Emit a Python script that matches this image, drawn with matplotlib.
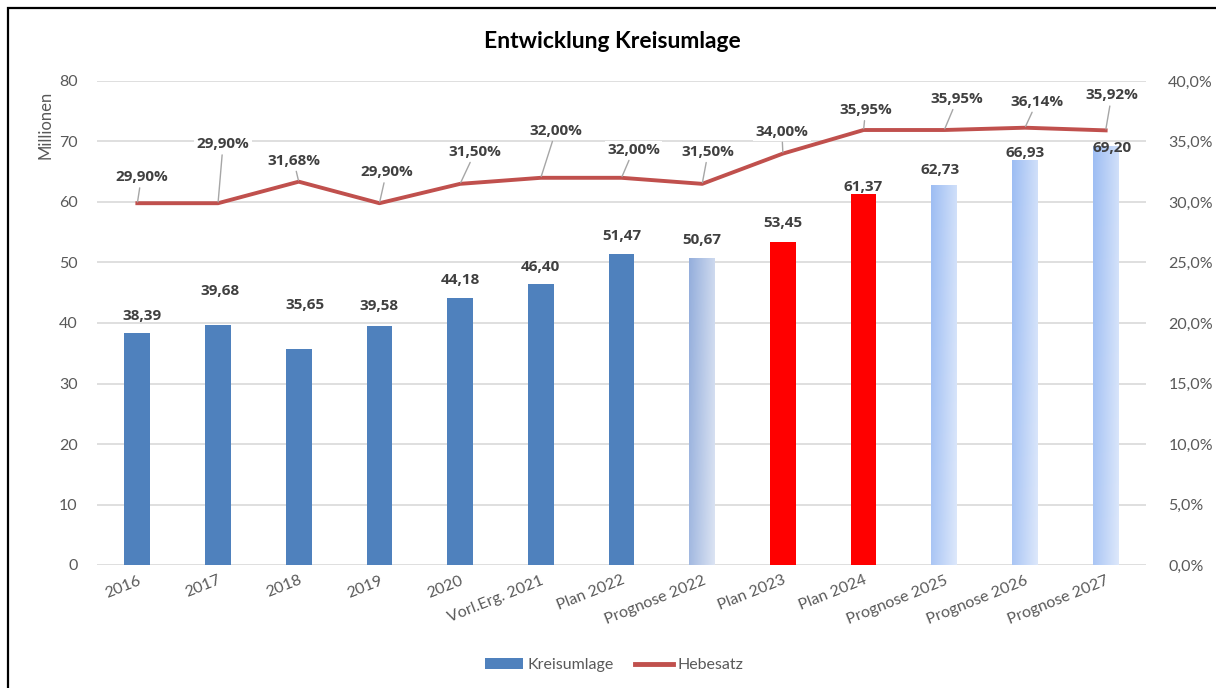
import numpy as np
import matplotlib
matplotlib.use("Agg")
import matplotlib.pyplot as plt
from matplotlib.colors import LinearSegmentedColormap
from matplotlib.patches import Patch, Rectangle
from matplotlib.lines import Line2D
from matplotlib.ticker import FuncFormatter, MultipleLocator

categories = ["2016", "2017", "2018", "2019", "2020", "Vorl.Erg. 2021", "Plan 2022",
              "Prognose 2022", "Plan 2023", "Plan 2024", "Prognose 2025",
              "Prognose 2026", "Prognose 2027"]
kreisumlage = [38.39, 39.68, 35.65, 39.58, 44.18, 46.40, 51.47, 50.67, 53.45, 61.37,
               62.73, 66.93, 69.20]
hebesatz = [29.90, 29.90, 31.68, 29.90, 31.50, 32.00, 32.00, 31.50, 34.00, 35.95,
            35.95, 36.14, 35.92]

# label offsets in pixels (dx, dy) from bar top / line point
bar_label_off = [(5, 17), (2, 34), (6, 44), (0, 20), (0, 18), (0, 17), (0, 18), (0, 18),
                 (0, 19), (0, 7), (-4, 15), (0, 7), (6, -2)]
pct_label_off = [(4, 26), (5, 59), (-5, 21), (7, 31), (15, 32), (15, 47), (12, 28),
                 (6, 32), (-1, 22), (2, 20), (13, 31), (12, 26), (6, 35)]

BLUE = "#4F81BD"
RED_LINE = "#C0504D"
GRAY_TXT = "#595959"
LABEL_TXT = "#404040"
GRID = "#D9D9D9"

plt.rcParams["font.family"] = ["Lato", "DejaVu Sans"]

fig = plt.figure(figsize=(12.16, 6.88), dpi=100)
ax = fig.add_axes([97 / 1216, 1 - 565 / 688, (1146 - 97) / 1216, (565 - 81) / 688])
ax2 = ax.twinx()

x = np.arange(len(categories))
colors = [BLUE] * 7 + ["grad1", "#FF0000", "#FF0000", "grad2", "grad2", "grad2"]
bars = ax.bar(x, kreisumlage, width=0.32, color=BLUE, zorder=2)

grads = {"grad1": ("#94AEDC", "#DCE4F3"), "grad2": ("#9DBDF3", "#DDE8FB")}
gx, gy = np.meshgrid(np.linspace(0, 1, 64), np.linspace(0, 1, 256))
gval = 0.8 * gx + 0.2 * gy
for b, c in zip(bars, colors):
    if c in grads:
        cmap = LinearSegmentedColormap.from_list(c, grads[c])
        bx, bw, bh = b.get_x(), b.get_width(), b.get_height()
        ax.imshow(gval, extent=[bx, bx + bw, 0, bh], cmap=cmap, aspect="auto",
                  zorder=2, interpolation="bilinear")
        b.set_facecolor("none")
    else:
        b.set_facecolor(c)

ax.set_xlim(-0.5, len(categories) - 0.5)
ax.set_ylim(0, 80)
ax.yaxis.set_major_locator(MultipleLocator(10))
ax.grid(axis="y", color=GRID, lw=1.2, zorder=0)
ax.set_axisbelow(True)
for s in ax.spines.values():
    s.set_visible(False)
for s in ax2.spines.values():
    s.set_visible(False)

ax.tick_params(axis="y", length=0, pad=14, labelsize=11.5, labelcolor=GRAY_TXT)
ax.tick_params(axis="x", length=0, pad=6, labelsize=11.5, labelcolor=GRAY_TXT)
ax.set_xticks(x)
ax.set_xticklabels(categories, rotation=22, ha="right", va="top", rotation_mode="anchor")
ax.set_ylabel("Millionen", fontsize=12, color=GRAY_TXT)
ax.yaxis.set_label_coords(-0.041, 0.91)

for i, (b, v) in enumerate(zip(bars, kreisumlage)):
    dx, dy = bar_label_off[i]
    ax.annotate(f"{v:.2f}".replace(".", ","), xy=(i, v), xytext=(dx, dy),
                textcoords="offset pixels", ha="center", va="center",
                fontsize=11, fontweight="bold", color=LABEL_TXT,
                family=["Open Sans", "DejaVu Sans"], zorder=5)

ax2.plot(x, hebesatz, color=RED_LINE, lw=2.8, solid_joinstyle="round", zorder=3)
ax2.set_ylim(0, 40)
ax2.yaxis.set_major_locator(MultipleLocator(5))
ax2.yaxis.set_major_formatter(FuncFormatter(lambda v, p: f"{v:.1f}%".replace(".", ",")))
ax2.tick_params(axis="y", length=0, pad=16, labelsize=11.5, labelcolor=GRAY_TXT)

for i, v in enumerate(hebesatz):
    dx, dy = pct_label_off[i]
    ax2.annotate(f"{v:.2f}%".replace(".", ","), xy=(i, v), xytext=(dx, dy),
                 textcoords="offset pixels", ha="center", va="center",
                 fontsize=11, fontweight="bold", color=LABEL_TXT,
                 family=["Open Sans", "DejaVu Sans"],
                 bbox=dict(boxstyle="square,pad=0.15", fc="white", ec="none"),
                 arrowprops=dict(arrowstyle="-", color="#A6A6A6", lw=1,
                                 shrinkA=1, shrinkB=1))

fig.text(0.504, 1 - 42 / 688, "Entwicklung Kreisumlage", ha="center", va="center",
         fontsize=16.5, fontweight="bold", color="black")

handles = [Patch(facecolor=BLUE, edgecolor="none"),
           Line2D([0], [0], color=RED_LINE, lw=3.5)]
fig.legend(handles, ["Kreisumlage", "Hebesatz"], loc="center",
           bbox_to_anchor=(0.505, 1 - 665 / 688), ncol=2, frameon=False,
           fontsize=11.5, labelcolor=GRAY_TXT, handlelength=2.4,
           handletextpad=0.3, columnspacing=1.3)

fig.patches.append(Rectangle((8 / 1216, -0.1), 1.2, 1.1 - 8 / 688, fill=False,
                             ec="black", lw=1.6, transform=fig.transFigure))

fig.savefig("out.png", dpi=100)
